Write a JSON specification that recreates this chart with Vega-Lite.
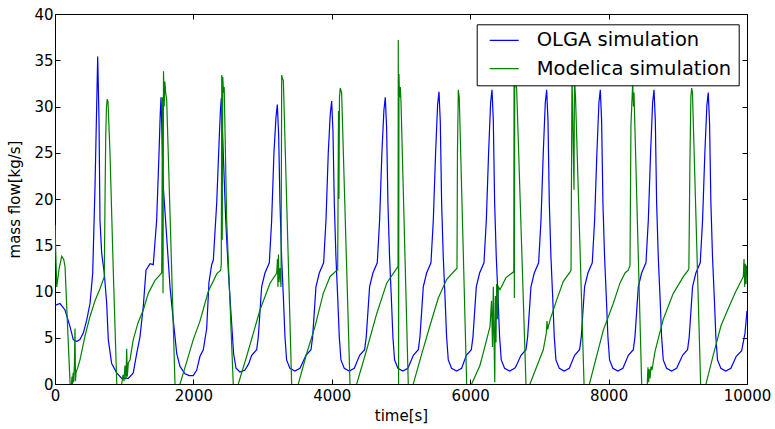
{
  "$schema": "https://vega.github.io/schema/vega-lite/v6.json",
  "width": 692,
  "height": 370,
  "autosize": {"type": "none"},
  "padding": {"left": 55, "top": 14, "right": 28, "bottom": 45},
  "background": "white",
  "config": {
    "view": {"stroke": "#000000", "strokeWidth": 1},
    "font": "DejaVu Sans",
    "axis": {
      "domain": false, "grid": false, "ticks": true, "tickSize": -5, "tickColor": "#000000", "tickWidth": 1, "labelFlush": false,
      "labelFont": "DejaVu Sans", "labelFontSize": 15, "labelColor": "#000000",
      "titleFont": "DejaVu Sans", "titleFontSize": 15, "titleFontWeight": "normal", "titleColor": "#000000"
    }
  },
  "datasets": {
    "olga": [
      {"t":0,"v":8.5},{"t":72,"v":8.7},{"t":145,"v":8.0},{"t":217,"v":6.2},{"t":264,"v":4.8},{"t":314,"v":4.6},{"t":360,"v":4.8},{"t":409,"v":5.5},{"t":458,"v":6.9},{"t":506,"v":8.7},{"t":545,"v":12},{"t":578,"v":21.3},{"t":603,"v":30.3},{"t":617,"v":35.4},{"t":636,"v":28.5},{"t":650,"v":17.7},{"t":675,"v":14.1},{"t":712,"v":12},{"t":747,"v":8.7},{"t":770,"v":4.8},{"t":819,"v":2.2},{"t":892,"v":1.2},{"t":964,"v":0.6},{"t":1059,"v":0.6},{"t":1131,"v":1.2},{"t":1181,"v":3.3},{"t":1228,"v":5.1},{"t":1276,"v":8.4},{"t":1315,"v":12.3},{"t":1373,"v":13.0},{"t":1420,"v":12.9},{"t":1469,"v":17.7},{"t":1503,"v":24.9},{"t":1520,"v":29},{"t":1532,"v":31.0},{"t":1565,"v":21.3},{"t":1614,"v":15.9},{"t":1662,"v":10.5},{"t":1709,"v":6.9},{"t":1759,"v":3.3},{"t":1806,"v":1.9},{"t":1878,"v":1.1},{"t":1940,"v":0.9},{"t":1998,"v":0.9},{"t":2048,"v":1.5},{"t":2095,"v":3.0},{"t":2143,"v":3.7},{"t":2192,"v":6.0},{"t":2225,"v":11.0},{"t":2264,"v":12.9},{"t":2288,"v":13.4},{"t":2337,"v":19.6},{"t":2374,"v":26.7},{"t":2390,"v":29.5},{"t":2403,"v":30.9},{"t":2432,"v":24.9},{"t":2467,"v":17.7},{"t":2504,"v":12.3},{"t":2540,"v":8.0},{"t":2581,"v":3.3},{"t":2616,"v":1.7},{"t":2673,"v":1.3},{"t":2746,"v":1.5},{"t":2800,"v":2.2},
      {"t":2842,"v":3.1},{"t":2914,"v":3.7},{"t":2938,"v":5.1},{"t":2986,"v":10.5},{"t":3034,"v":12.0},{"t":3097,"v":13.1},{"t":3131,"v":17.7},{"t":3164,"v":25},{"t":3193,"v":28.8},{"t":3213,"v":30.2},{"t":3232,"v":26.9},{"t":3251,"v":19.6},{"t":3275,"v":13.7},{"t":3300,"v":9.4},{"t":3323,"v":5.1},{"t":3347,"v":2.6},{"t":3395,"v":1.7},{"t":3467,"v":1.4},{"t":3540,"v":1.7},
      {"t":3627,"v":3.1},{"t":3699,"v":3.7},{"t":3723,"v":5.1},{"t":3771,"v":10.5},{"t":3819,"v":12.0},{"t":3882,"v":13.1},{"t":3916,"v":17.7},{"t":3949,"v":25},{"t":3978,"v":29.2},{"t":3998,"v":30.6},{"t":4017,"v":27.3},{"t":4036,"v":19.6},{"t":4060,"v":13.7},{"t":4085,"v":9.4},{"t":4108,"v":5.1},{"t":4132,"v":2.6},{"t":4180,"v":1.7},{"t":4252,"v":1.4},{"t":4325,"v":1.7},
      {"t":4402,"v":3.1},{"t":4474,"v":3.7},{"t":4498,"v":5.1},{"t":4546,"v":10.5},{"t":4594,"v":12.0},{"t":4657,"v":13.1},{"t":4691,"v":17.7},{"t":4724,"v":25},{"t":4753,"v":29.6},{"t":4773,"v":31.0},{"t":4792,"v":27.7},{"t":4811,"v":19.6},{"t":4835,"v":13.7},{"t":4860,"v":9.4},{"t":4883,"v":5.1},{"t":4907,"v":2.6},{"t":4955,"v":1.7},{"t":5027,"v":1.4},{"t":5100,"v":1.7},
      {"t":5178,"v":3.1},{"t":5250,"v":3.7},{"t":5274,"v":5.1},{"t":5322,"v":10.5},{"t":5370,"v":12.0},{"t":5433,"v":13.1},{"t":5467,"v":17.7},{"t":5500,"v":25},{"t":5529,"v":30.2},{"t":5549,"v":31.6},{"t":5568,"v":28.3},{"t":5587,"v":19.6},{"t":5611,"v":13.7},{"t":5636,"v":9.4},{"t":5659,"v":5.1},{"t":5683,"v":2.6},{"t":5731,"v":1.7},{"t":5803,"v":1.4},{"t":5876,"v":1.7},
      {"t":5944,"v":3.1},{"t":6016,"v":3.7},{"t":6040,"v":5.1},{"t":6088,"v":10.5},{"t":6136,"v":12.0},{"t":6199,"v":13.1},{"t":6233,"v":17.7},{"t":6266,"v":25},{"t":6295,"v":30.4},{"t":6315,"v":31.8},{"t":6334,"v":28.5},{"t":6353,"v":19.6},{"t":6377,"v":13.7},{"t":6402,"v":9.4},{"t":6425,"v":5.1},{"t":6449,"v":2.6},{"t":6497,"v":1.7},{"t":6569,"v":1.4},{"t":6642,"v":1.7},
      {"t":6661,"v":1.9},{"t":6734,"v":3.1},{"t":6806,"v":3.7},{"t":6830,"v":5.1},{"t":6878,"v":10.5},{"t":6926,"v":12.0},{"t":6989,"v":13.1},{"t":7023,"v":17.7},{"t":7056,"v":25},{"t":7085,"v":30.4},{"t":7105,"v":31.8},{"t":7124,"v":28.5},{"t":7143,"v":19.6},{"t":7167,"v":13.7},{"t":7192,"v":9.4},{"t":7215,"v":5.1},{"t":7239,"v":2.6},{"t":7287,"v":1.7},{"t":7359,"v":1.4},{"t":7432,"v":1.7},
      {"t":7509,"v":3.1},{"t":7581,"v":3.7},{"t":7605,"v":5.1},{"t":7653,"v":10.5},{"t":7701,"v":12.0},{"t":7764,"v":13.1},{"t":7798,"v":17.7},{"t":7831,"v":25},{"t":7860,"v":30.4},{"t":7880,"v":31.8},{"t":7899,"v":28.5},{"t":7918,"v":19.6},{"t":7942,"v":13.7},{"t":7967,"v":9.4},{"t":7990,"v":5.1},{"t":8014,"v":2.6},{"t":8062,"v":1.7},{"t":8134,"v":1.4},{"t":8207,"v":1.7},
      {"t":8285,"v":3.1},{"t":8357,"v":3.7},{"t":8381,"v":5.1},{"t":8429,"v":10.5},{"t":8477,"v":12.0},{"t":8540,"v":13.1},{"t":8574,"v":17.7},{"t":8607,"v":25},{"t":8636,"v":30.4},{"t":8656,"v":31.8},{"t":8675,"v":28.5},{"t":8694,"v":19.6},{"t":8718,"v":13.7},{"t":8743,"v":9.4},{"t":8766,"v":5.1},{"t":8790,"v":2.6},{"t":8838,"v":1.7},{"t":8910,"v":1.4},{"t":8983,"v":1.7},
      {"t":9069,"v":3.1},{"t":9141,"v":3.7},{"t":9165,"v":5.1},{"t":9213,"v":10.5},{"t":9261,"v":12.0},{"t":9324,"v":13.1},{"t":9358,"v":17.7},{"t":9391,"v":25},{"t":9420,"v":30.1},{"t":9440,"v":31.5},{"t":9459,"v":28.2},{"t":9478,"v":19.6},{"t":9502,"v":13.7},{"t":9527,"v":9.4},{"t":9550,"v":5.1},{"t":9574,"v":2.6},{"t":9622,"v":1.7},{"t":9694,"v":1.4},{"t":9767,"v":1.7},
      {"t":9845,"v":3.0},{"t":9923,"v":3.6},{"t":9971,"v":5.5},{"t":10000,"v":7.9}
    ],
    "modelica": [
      {"t":0,"v":17.2},{"t":25,"v":10.5},{"t":60,"v":12.5},{"t":97,"v":13.8},{"t":125,"v":13.5},{"t":145,"v":12.7},{"t":180,"v":6.5},{"t":217,"v":0.2},{"t":231,"v":-1},{"t":245,"v":0.8},{"t":253,"v":0},{"t":262,"v":1.2},{"t":270,"v":0.2},{"t":280,"v":2.0},{"t":289,"v":6.0},{"t":296,"v":0.3},{"t":303,"v":1.2},{"t":330,"v":1.8},{"t":361,"v":2.6},{"t":434,"v":5.2},{"t":506,"v":7.3},{"t":578,"v":9.0},{"t":650,"v":10.3},{"t":712,"v":11.6},{"t":723,"v":20},{"t":733,"v":26.7},{"t":744,"v":30},{"t":755,"v":30.8},{"t":766,"v":30.5},{"t":795,"v":24.9},{"t":842,"v":12.3},{"t":892,"v":0.2},{"t":903,"v":-2},{"t":950,"v":-1},
      {"t":964,"v":0},{"t":983,"v":1.0},{"t":997,"v":0.3},{"t":1011,"v":2.0},{"t":1026,"v":0.5},{"t":1036,"v":3.8},{"t":1045,"v":0.8},{"t":1060,"v":2.3},{"t":1084,"v":2.6},{"t":1131,"v":4.8},{"t":1199,"v":6.6},{"t":1276,"v":8.0},{"t":1348,"v":9.8},{"t":1445,"v":11.2},{"t":1542,"v":12.0},{"t":1553,"v":31},{"t":1561,"v":9.8},{"t":1568,"v":33.8},{"t":1578,"v":30},{"t":1587,"v":32.7},{"t":1600,"v":31.5},{"t":1614,"v":30.7},{"t":1734,"v":0},{"t":1748,"v":-2},{"t":1790,"v":-1},
      {"t":1806,"v":0},{"t":1903,"v":2.4},{"t":1998,"v":4.8},{"t":2095,"v":6.8},{"t":2215,"v":10.0},{"t":2337,"v":11.9},{"t":2395,"v":12.3},{"t":2403,"v":13},{"t":2410,"v":33.4},{"t":2417,"v":15.6},{"t":2424,"v":33.2},{"t":2435,"v":31.5},{"t":2445,"v":32.1},{"t":2481,"v":17.7},{"t":2576,"v":0},{"t":2593,"v":-2},{"t":2630,"v":-1},
      {"t":2649,"v":0},{"t":2770,"v":3.0},{"t":2962,"v":8.0},{"t":3107,"v":10.9},{"t":3204,"v":12.0},{"t":3215,"v":13.5},{"t":3222,"v":10.5},{"t":3229,"v":14.0},{"t":3237,"v":11.0},{"t":3251,"v":12.5},{"t":3266,"v":10.5},{"t":3276,"v":33.4},{"t":3287,"v":33.0},{"t":3300,"v":32.8},{"t":3420,"v":0},{"t":3439,"v":-2},{"t":3500,"v":-1},
      {"t":3516,"v":0},{"t":3637,"v":3.3},{"t":3757,"v":6.2},{"t":3877,"v":9.8},{"t":3974,"v":11.6},{"t":4071,"v":12.3},{"t":4085,"v":12.3},{"t":4097,"v":29.5},{"t":4103,"v":20},{"t":4111,"v":31.0},{"t":4122,"v":32.0},{"t":4142,"v":31.5},{"t":4263,"v":0},{"t":4277,"v":-2},{"t":4340,"v":-1},
      {"t":4360,"v":0},{"t":4504,"v":3.7},{"t":4649,"v":7.6},{"t":4793,"v":10.9},{"t":4938,"v":12.5},{"t":4957,"v":12.7},{"t":4961,"v":37.2},{"t":4965,"v":0},{"t":4971,"v":33.5},{"t":4978,"v":31.0},{"t":4990,"v":32.1},{"t":5000,"v":30.5},{"t":5105,"v":0},{"t":5122,"v":-2},{"t":5160,"v":-1},
      {"t":5177,"v":0},{"t":5298,"v":3.2},{"t":5418,"v":6.3},{"t":5539,"v":9.3},{"t":5659,"v":11.3},{"t":5780,"v":12.3},{"t":5809,"v":12.5},{"t":5816,"v":25},{"t":5828,"v":31.8},{"t":5842,"v":31.0},{"t":5949,"v":0},{"t":5968,"v":-2},{"t":6005,"v":-1},
      {"t":6021,"v":0},{"t":6141,"v":2.0},{"t":6228,"v":4.5},{"t":6286,"v":6.2},{"t":6308,"v":9.0},{"t":6322,"v":4.0},{"t":6334,"v":10.5},{"t":6344,"v":5.0},{"t":6355,"v":0.2},{"t":6363,"v":9.5},{"t":6373,"v":4.5},{"t":6382,"v":10.8},{"t":6394,"v":7.0},{"t":6406,"v":10.5},{"t":6430,"v":10.2},{"t":6517,"v":11.5},{"t":6624,"v":12.1},{"t":6630,"v":12.3},{"t":6634,"v":33.5},{"t":6638,"v":9.3},{"t":6644,"v":33.5},{"t":6653,"v":32.5},{"t":6671,"v":32.0},{"t":6806,"v":0},{"t":6827,"v":-2},{"t":6850,"v":-1},
      {"t":6864,"v":0},{"t":7056,"v":3.7},{"t":7100,"v":5.5},{"t":7110,"v":6.8},{"t":7120,"v":5.9},{"t":7153,"v":6.9},{"t":7250,"v":9.1},{"t":7346,"v":11.1},{"t":7442,"v":12.1},{"t":7457,"v":12.3},{"t":7471,"v":33.5},{"t":7500,"v":21},{"t":7507,"v":33},{"t":7522,"v":31},{"t":7645,"v":0},{"t":7665,"v":-2},{"t":7700,"v":-1},
      {"t":7723,"v":0},{"t":7923,"v":5.8},{"t":8067,"v":8.7},{"t":8164,"v":10.9},{"t":8237,"v":12.0},{"t":8284,"v":12.3},{"t":8309,"v":12.8},{"t":8323,"v":28},{"t":8348,"v":32.5},{"t":8360,"v":30},{"t":8367,"v":31.5},{"t":8478,"v":0},{"t":8497,"v":-2},{"t":8540,"v":-1},
      {"t":8559,"v":0},{"t":8569,"v":1.8},{"t":8579,"v":0.2},{"t":8588,"v":1.6},{"t":8598,"v":0.6},{"t":8612,"v":1.9},{"t":8627,"v":1.5},{"t":8670,"v":3.5},{"t":8790,"v":7.0},{"t":8935,"v":9.8},{"t":9080,"v":11.6},{"t":9150,"v":12.3},{"t":9160,"v":12.5},{"t":9175,"v":24},{"t":9189,"v":31},{"t":9200,"v":32.0},{"t":9212,"v":31.5},{"t":9330,"v":0},{"t":9349,"v":-2},{"t":9390,"v":-1},
      {"t":9407,"v":0},{"t":9515,"v":3.2},{"t":9624,"v":6.3},{"t":9731,"v":8.2},{"t":9802,"v":9.4},{"t":9838,"v":10.0},{"t":9946,"v":11.6},{"t":9957,"v":13.5},{"t":9967,"v":10.5},{"t":9975,"v":13.0},{"t":9986,"v":10.8},{"t":9995,"v":12.8},{"t":10000,"v":12.0}
    ]
  },
  "layer": [
    {
      "data": {"name": "olga"},
      "mark": {"type": "line", "clip": true, "strokeWidth": 1.2},
      "encoding": {
        "x": {"field": "t", "type": "quantitative", "scale": {"domain": [0, 10000], "nice": false, "zero": false},
              "axis": {"orient": "bottom", "values": [0, 2000, 4000, 6000, 8000, 10000], "format": "d", "title": "time[s]", "labelPadding": 9, "titlePadding": 5}},
        "y": {"field": "v", "type": "quantitative", "scale": {"domain": [0, 40], "nice": false},
              "axis": {"orient": "left", "values": [0, 5, 10, 15, 20, 25, 30, 35, 40], "title": "mass flow[kg/s]", "labelPadding": 7, "titlePadding": 11}},
        "color": {"datum": "OLGA simulation", "type": "nominal",
                  "scale": {"domain": ["OLGA simulation", "Modelica simulation"], "range": ["#0000ff", "#008000"]},
                  "legend": {"orient": "none", "legendX": 421.7, "legendY": 10.3, "title": null, "symbolType": "stroke", "symbolSize": 841, "symbolStrokeWidth": 1.2,
                             "labelFont": "DejaVu Sans", "labelFontSize": 19.5, "labelColor": "#000000", "labelLimit": 400, "strokeColor": "#000000", "fillColor": "#ffffff",
                             "padding": 7, "symbolOffset": 5, "labelOffset": 17, "rowPadding": 8.4, "clipHeight": 18, "zindex": 1, "cornerRadius": 0}}
      }
    },
    {
      "data": {"name": "modelica"},
      "mark": {"type": "line", "clip": true, "strokeWidth": 1.2},
      "encoding": {
        "x": {"field": "t", "type": "quantitative", "axis": {"orient": "top", "values": [0, 2000, 4000, 6000, 8000, 10000], "labels": false, "title": null}},
        "y": {"field": "v", "type": "quantitative", "axis": {"orient": "right", "values": [0, 5, 10, 15, 20, 25, 30, 35, 40], "labels": false, "title": null}},
        "color": {"datum": "Modelica simulation", "type": "nominal"}
      }
    }
  ],
  "resolve": {"axis": {"x": "independent", "y": "independent"}}
}
